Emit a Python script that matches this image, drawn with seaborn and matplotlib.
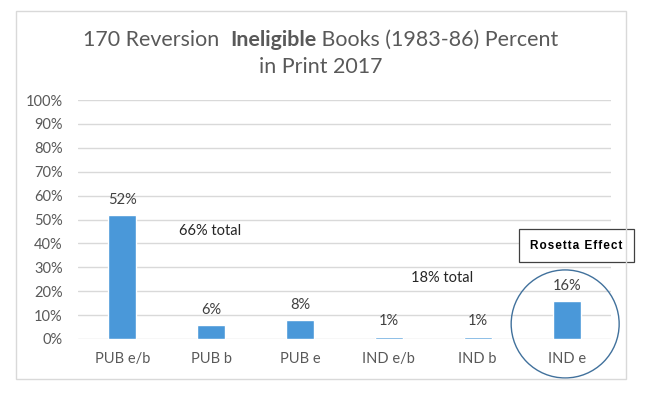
import matplotlib
matplotlib.use("Agg")
import matplotlib.pyplot as plt
from matplotlib.patches import Ellipse, Rectangle
import seaborn as sns
import pandas as pd

# chart values
categories = ["PUB e/b", "PUB b", "PUB e", "IND e/b", "IND b", "IND e"]
percents = [52, 6, 8, 1, 1, 16]
yticks = [0, 10, 20, 30, 40, 50, 60, 70, 80, 90, 100]
title_parts = ["170 Reversion  ", "Ineligible", " Books (1983-86) Percent"]
title_line2 = "in Print 2017"
notes = ["66% total", "18% total"]
callout = "Rosetta Effect"

bar_color = "#4a98d9"
grey = "#595959"

sns.set_style("white")
plt.rcParams["font.family"] = ["Lato", "DejaVu Sans"]

df = pd.DataFrame({"category": categories, "percent": percents})

fig = plt.figure(figsize=(6.45, 3.95), dpi=100)
ax = fig.add_axes([78 / 645, 56 / 395, 533 / 645, 239 / 395])

sns.barplot(data=df, x="category", y="percent", color=bar_color,
            width=0.315, saturation=1, ax=ax)

ax.set_ylim(0, 100)
ax.set_xlim(-0.5, len(categories) - 0.5)
ax.set_yticks(yticks)
ax.set_yticklabels([f"{t}%" for t in yticks])
ax.set_xlabel("")
ax.set_ylabel("")
ax.yaxis.grid(True, color="#d9d9d9", linewidth=1)
ax.set_axisbelow(True)
for s in ax.spines.values():
    s.set_visible(False)
ax.tick_params(axis="both", length=0, labelsize=10.5, labelcolor=grey)
ax.tick_params(axis="y", pad=11)
ax.tick_params(axis="x", pad=9.5)

# value labels above bars
for i, v in enumerate(percents):
    ax.annotate(f"{v}%", (i, v), xytext=(0, 8), textcoords="offset points",
                ha="center", va="baseline", fontsize=10.5, color="#404040")

# group totals
ax.text(0.986, 45, notes[0], ha="center", va="center", fontsize=10.5, color="#262626")
ax.text(3.6, 25.6, notes[1], ha="center", va="center", fontsize=10.5, color="#262626")

# circle around IND e and the callout box
ax.add_patch(Ellipse((0.914, 0.063), 0.2026, 0.452, transform=ax.transAxes,
                     fill=False, edgecolor="#41719c", linewidth=1, clip_on=False))
ax.add_patch(Rectangle((0.827, 0.322), 0.216, 0.138, transform=ax.transAxes,
                       facecolor="white", edgecolor="#404040", linewidth=0.9,
                       clip_on=False, zorder=5))
ax.text(0.935, 0.391, "\u200a".join(callout), transform=ax.transAxes,
        ha="center", va="center", fontsize=8.5, fontweight="bold", color="black",
        family=["Liberation Sans", "DejaVu Sans"], zorder=6)

# outer chart border
fig.patches.append(Rectangle((16 / 645, 16 / 395), 610 / 645, 368 / 395,
                             transform=fig.transFigure, fill=False,
                             edgecolor="#d9d9d9", linewidth=1))

# title with bold middle word
r = fig.canvas.get_renderer()
tsize = 15.4
pieces = []
for j, part in enumerate(title_parts):
    t = fig.text(0, 0, part, fontsize=tsize, color=grey,
                 fontweight="bold" if j == 1 else "normal", va="baseline")
    pieces.append(t)
widths = [p.get_window_extent(r).width for p in pieces]
x = 320.5 - sum(widths) / 2
for p, w in zip(pieces, widths):
    p.set_position((x / 645, (395 - 46) / 395))
    x += w
fig.text(320.5 / 645, (395 - 73) / 395, title_line2, fontsize=tsize, color=grey,
         ha="center", va="baseline")

fig.savefig("out.png", dpi=100)
